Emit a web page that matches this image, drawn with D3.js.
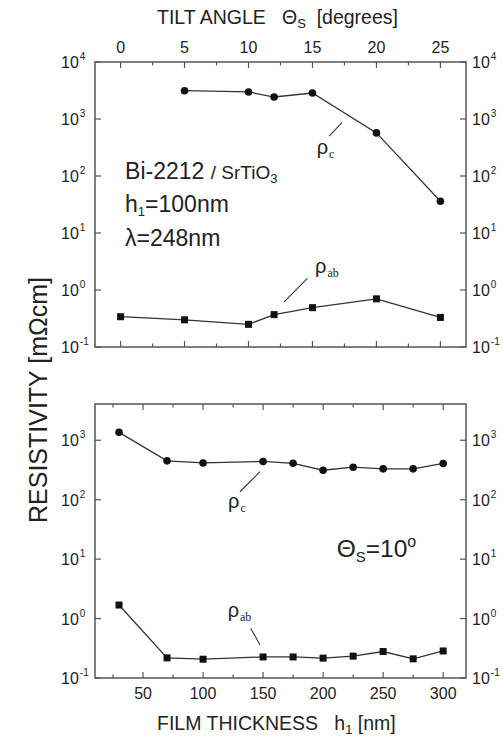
<!DOCTYPE html>
<html><head><meta charset="utf-8">
<script src="https://cdn.jsdelivr.net/npm/d3@7"></script>
<style>
body{margin:0;background:#fff;}
svg{display:block;font-family:Arial,"Liberation Sans",sans-serif;}
</style></head>
<body><div id="chart"></div>
<script>
// ---- data ----
const tiltTicks = [0, 5, 10, 15, 20, 25];
const tiltRhoCX = [5, 10, 12, 15, 20, 25];
const tiltRhoC = [3140, 2980, 2430, 2860, 570, 36];
const tiltRhoAbX = [0, 5, 10, 12, 15, 20, 25];
const tiltRhoAb = [0.34, 0.30, 0.25, 0.37, 0.49, 0.70, 0.33];

const thickTicks = [50, 100, 150, 200, 250, 300];
const thickX = [30, 70, 100, 150, 175, 200, 225, 250, 275, 300];
const thickRhoC = [1360, 450, 415, 440, 410, 313, 352, 330, 330, 407];
const thickRhoAb = [1.69, 0.218, 0.207, 0.226, 0.226, 0.216, 0.233, 0.279, 0.21, 0.285];

const topExps = [-1, 0, 1, 2, 3, 4];
const botExps = [-1, 0, 1, 2, 3];

// ---- layout ----
const W = 503, H = 738;
const L = 95, R = 466;
const svg = d3.select("#chart").append("svg").attr("width", W).attr("height", H);
const axisColor = "#555", lineColor = "#333";

const xTop = d3.scaleLinear().domain([-2, 27]).range([L, R]);
const yTop = d3.scaleLog().domain([0.1, 1e4]).range([347, 62]);
const xBot = d3.scaleLinear().domain([10, 319]).range([L, R]);
const yBot = d3.scaleLog().domain([0.1, Math.pow(10, 3.61)]).range([678, 404]);

function frame(x, y, minorStep, exps) {
  const [y0, y1] = y.range();
  const g = svg.append("g");
  g.append("rect").attr("x", L).attr("y", y1).attr("width", R - L).attr("height", y0 - y1)
    .attr("fill", "none").attr("stroke", axisColor).attr("stroke-width", 1.5);
  const [d0, d1] = x.domain();
  const ticks = d3.range(Math.ceil(d0 / minorStep) * minorStep, d1 + 1e-9, minorStep);
  ticks.forEach(t => {
    const major = Math.abs(t / (minorStep * 2) - Math.round(t / (minorStep * 2))) < 1e-6;
    const len = major ? 6 : 3.5;
    g.append("line").attr("x1", x(t)).attr("x2", x(t)).attr("y1", y1).attr("y2", y1 + len)
      .attr("stroke", axisColor).attr("stroke-width", 1.2);
    g.append("line").attr("x1", x(t)).attr("x2", x(t)).attr("y1", y0).attr("y2", y0 - len)
      .attr("stroke", axisColor).attr("stroke-width", 1.2);
  });
  exps.forEach(e => {
    const yy = y(Math.pow(10, e));
    g.append("line").attr("x1", L).attr("x2", L + 6).attr("y1", yy).attr("y2", yy)
      .attr("stroke", axisColor).attr("stroke-width", 1.2);
    g.append("line").attr("x1", R).attr("x2", R - 6).attr("y1", yy).attr("y2", yy)
      .attr("stroke", axisColor).attr("stroke-width", 1.2);
    [L - 34, R + 6].forEach(xx => {
      const t = g.append("text").attr("x", xx).attr("y", yy + 6).attr("font-size", 16).attr("fill", "#222");
      t.append("tspan").text("10");
      t.append("tspan").attr("dy", -8).attr("font-size", 10).attr("dx", 1).text(String(e));
    });
  });
}

frame(xTop, yTop, 2.5, topExps);
frame(xBot, yBot, 25, botExps);

// tick labels
svg.append("g").selectAll("text").data(tiltTicks).join("text")
  .attr("x", d => xTop(d)).attr("y", 53).attr("text-anchor", "middle")
  .attr("font-size", 16).attr("fill", "#222").text(d => d);
svg.append("g").selectAll("text").data(thickTicks).join("text")
  .attr("x", d => xBot(d)).attr("y", 699).attr("text-anchor", "middle")
  .attr("font-size", 16).attr("fill", "#222").text(d => d);

// titles
const tt = svg.append("text").attr("x", 157).attr("y", 24).attr("font-size", 19.5).attr("fill", "#222")
  .attr("xml:space", "preserve");
tt.append("tspan").text("TILT ANGLE   \u0398");
tt.append("tspan").attr("font-size", 13).attr("dy", 4).text("S");
tt.append("tspan").attr("dy", -4).text("  [degrees]");

const bt = svg.append("text").attr("x", 157).attr("y", 730).attr("font-size", 19.5).attr("fill", "#222")
  .attr("xml:space", "preserve");
bt.append("tspan").text("FILM THICKNESS   h");
bt.append("tspan").attr("font-size", 13).attr("dy", 4).text("1");
bt.append("tspan").attr("dy", -4).text(" [nm]");

svg.append("text").attr("transform", "translate(47,400) rotate(-90)").attr("text-anchor", "middle")
  .attr("font-size", 25).attr("fill", "#222").text("RESISTIVITY [m\u03A9cm]");

// series
function series(x, y, xs, vs, shape) {
  const pts = xs.map((d, i) => [x(d), y(vs[i])]);
  svg.append("path").attr("d", d3.line()(pts)).attr("fill", "none")
    .attr("stroke", lineColor).attr("stroke-width", 1.3);
  const g = svg.append("g");
  if (shape === "circle") {
    g.selectAll("circle").data(pts).join("circle").attr("cx", d => d[0]).attr("cy", d => d[1])
      .attr("r", 3.8).attr("fill", "#111");
  } else {
    g.selectAll("rect").data(pts).join("rect").attr("x", d => d[0] - 3.5).attr("y", d => d[1] - 3.5)
      .attr("width", 7).attr("height", 7).attr("fill", "#111");
  }
}
series(xTop, yTop, tiltRhoCX, tiltRhoC, "circle");
series(xTop, yTop, tiltRhoAbX, tiltRhoAb, "square");
series(xBot, yBot, thickX, thickRhoC, "circle");
series(xBot, yBot, thickX, thickRhoAb, "square");

// annotations
function rhoLabel(x, y, tx, ty, sub, l1, l2) {
  svg.append("line").attr("x1", x(l1[0])).attr("y1", y(l1[1])).attr("x2", x(l2[0])).attr("y2", y(l2[1]))
    .attr("stroke", lineColor).attr("stroke-width", 1.1);
  const t = svg.append("text").attr("x", x(tx)).attr("y", y(ty)).attr("font-size", 20).attr("fill", "#222");
  t.append("tspan").text("\u03C1");
  t.append("tspan").attr("dy", 4).attr("dx", 1).attr("font-size", 12)
    .attr("font-family", "'Liberation Serif','Times New Roman',serif").text(sub);
}
rhoLabel(xTop, yTop, 15.33, 243, "c", [16.3, 500], [17.3, 860]);
rhoLabel(xTop, yTop, 15.2, 2.0, "ab", [12.78, 0.62], [14.6, 1.6]);
rhoLabel(xBot, yBot, 120.8, 72, "c", [130.8, 136], [147.4, 296]);
rhoLabel(xBot, yBot, 120.5, 1.07, "ab", [139.7, 0.69], [147.4, 0.36]);

const a1 = svg.append("text").attr("x", xTop(0.35)).attr("y", yTop(88.5)).attr("font-size", 23).attr("fill", "#222");
a1.append("tspan").text("Bi-2212 ");
a1.append("tspan").attr("font-size", 19).text("/ SrTiO");
a1.append("tspan").attr("font-size", 13).attr("dy", 4).text("3");
const a2 = svg.append("text").attr("x", xTop(0.35)).attr("y", yTop(23.6)).attr("font-size", 23).attr("fill", "#222");
a2.append("tspan").text("h");
a2.append("tspan").attr("font-size", 13).attr("dy", 4).text("1");
a2.append("tspan").attr("dy", -4).text("=100nm");
svg.append("text").attr("x", xTop(0.35)).attr("y", yTop(5.9)).attr("font-size", 23).attr("fill", "#222")
  .text("\u03BB=248nm");

const a4 = svg.append("text").attr("x", xBot(211.3)).attr("y", yBot(11)).attr("font-size", 24.5).attr("fill", "#222");
a4.append("tspan").text("\u0398");
a4.append("tspan").attr("font-size", 15).attr("dy", 5).text("S");
a4.append("tspan").attr("dy", -5).text("=10");
a4.append("tspan").attr("font-size", 16).attr("dy", -10).text("o");
</script></body></html>
